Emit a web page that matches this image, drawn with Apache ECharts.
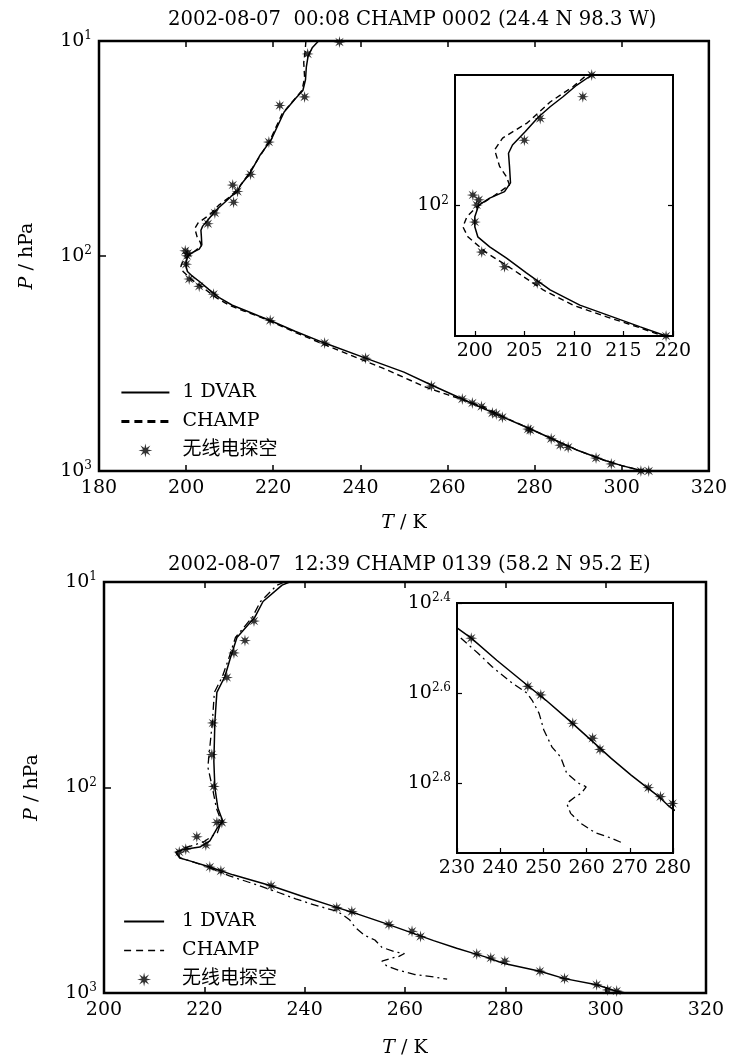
<!DOCTYPE html>
<html>
<head>
<meta charset="utf-8">
<script src="https://cdn.jsdelivr.net/npm/echarts@6/dist/echarts.min.js"></script>
<style>
  html, body { margin: 0; padding: 0; background: #fff; }
  #chart { width: 730px; height: 1059px; }
</style>
</head>
<body>
<div id="chart"></div>
<script>
// 上图: 2002-08-07 00:08, 温度 T (K), 气压用 lg(P/hPa)
const t1Dvar = [230.4, 229.0, 228.0, 227.6, 227.4, 226.8, 225.0, 222.5, 219.5, 217.0, 214.5, 212.5, 211.8, 210.3, 208.9, 207.6, 206.4, 205.1, 203.8, 203.4, 203.5, 203.6, 203.0, 201.5, 200.4, 200.0, 200.0, 200.3, 201.5, 203.2, 205.2, 207.6, 210.6, 213.9, 216.7, 219.3, 225.0, 231.8, 241.2, 250.0, 256.3, 263.4, 270.0, 278.5, 284.0, 290.0, 296.0, 300.0, 304.0, 306.5]
const p1Dvar = [1.00, 1.03, 1.07, 1.12, 1.18, 1.23, 1.27, 1.33, 1.46, 1.53, 1.62, 1.67, 1.70, 1.723, 1.75, 1.773, 1.797, 1.83, 1.861, 1.88, 1.91, 1.948, 1.968, 1.983, 1.999, 2.026, 2.049, 2.072, 2.095, 2.121, 2.155, 2.194, 2.229, 2.256, 2.279, 2.30, 2.35, 2.405, 2.475, 2.54, 2.60, 2.665, 2.725, 2.80, 2.85, 2.905, 2.95, 2.975, 2.995, 3.0]

const t1Champ = [227.5, 227.3, 227.0, 227.2, 226.6, 224.5, 222.0, 219.3, 216.8, 214.3, 212.2, 211.3, 209.9, 207.6, 205.3, 202.8, 202.0, 202.5, 203.2, 203.5, 201.8, 200.2, 199.2, 198.8, 199.3, 201.2, 203.9, 206.9, 209.9, 213.3, 216.4, 219.0, 225.0, 231.5, 240.0, 245.0, 250.0, 255.0, 260.0, 264.0, 268.0, 272.5, 278.0, 284.0, 290.0, 296.0, 300.0, 304.0, 306.0]
const p1Champ = [1.00, 1.05, 1.10, 1.17, 1.23, 1.28, 1.34, 1.46, 1.54, 1.62, 1.68, 1.70, 1.727, 1.762, 1.81, 1.845, 1.872, 1.91, 1.934, 1.953, 1.98, 2.003, 2.026, 2.049, 2.072, 2.109, 2.148, 2.194, 2.229, 2.256, 2.279, 2.30, 2.355, 2.41, 2.48, 2.52, 2.565, 2.61, 2.645, 2.672, 2.70, 2.745, 2.795, 2.85, 2.905, 2.95, 2.975, 2.995, 3.0]

const t1Sonde = [235.2, 227.9, 227.2, 221.5, 219.0, 214.8, 210.7, 211.8, 210.9, 206.6, 205.0, 199.8, 200.4, 200.2, 200.0, 200.7, 203.0, 206.3, 219.3, 231.8, 241.2, 256.3, 263.4, 265.7, 267.8, 270.3, 271.2, 272.6, 278.5, 279.0, 283.8, 285.9, 287.7, 294.1, 297.6, 304.4, 306.2]
const p1Sonde = [1.005, 1.06, 1.26, 1.30, 1.47, 1.62, 1.67, 1.70, 1.75, 1.80, 1.85, 1.976, 1.987, 1.999, 2.038, 2.107, 2.141, 2.178, 2.30, 2.405, 2.475, 2.605, 2.665, 2.684, 2.70, 2.73, 2.735, 2.75, 2.805, 2.81, 2.85, 2.88, 2.89, 2.94, 2.967, 3.0, 3.0]

// 下图: 2002-08-07 12:39
const t2Dvar = [237.0, 235.5, 231.7, 230.1, 226.5, 225.1, 224.1, 222.5, 222.1, 221.9, 222.1, 222.7, 223.7, 222.5, 221.1, 219.1, 216.1, 214.3, 215.1, 217.1, 221.1, 225.7, 230.0, 233.3, 239.2, 246.2, 250.6, 255.9, 261.1, 265.7, 270.3, 273.5, 276.5, 278.7, 280.0, 286.9, 291.8, 298.2, 302.0, 304.0]
const p2Dvar = [1.0, 1.015, 1.095, 1.17, 1.27, 1.377, 1.46, 1.537, 1.68, 1.875, 2.0, 2.10, 2.165, 2.20, 2.26, 2.29, 2.30, 2.315, 2.343, 2.357, 2.387, 2.425, 2.455, 2.478, 2.527, 2.582, 2.616, 2.66, 2.705, 2.745, 2.782, 2.806, 2.828, 2.848, 2.858, 2.894, 2.93, 2.96, 2.99, 3.0]

const t2Champ = [236.0, 234.5, 231.2, 229.6, 226.2, 224.8, 223.6, 222.0, 221.6, 220.7, 221.6, 222.4, 223.4, 222.6, 219.8, 216.0, 214.5, 215.2, 217.5, 221.0, 225.0, 230.0, 234.8, 238.2, 242.8, 246.2, 247.4, 249.0, 250.1, 252.0, 254.0, 255.4, 258.1, 259.9, 258.8, 257.4, 255.4, 256.3, 258.8, 262.0, 265.7, 268.4]
const p2Champ = [1.0, 1.015, 1.095, 1.17, 1.27, 1.377, 1.46, 1.537, 1.68, 1.9, 2.0, 2.10, 2.165, 2.22, 2.265, 2.295, 2.318, 2.343, 2.36, 2.39, 2.43, 2.47, 2.511, 2.542, 2.578, 2.60, 2.616, 2.645, 2.682, 2.72, 2.742, 2.778, 2.80, 2.808, 2.822, 2.83, 2.845, 2.867, 2.89, 2.91, 2.922, 2.933]

const t2Sonde = [229.9, 228.1, 225.9, 224.5, 221.7, 221.5, 221.9, 222.5, 223.5, 218.5, 220.3, 215.0, 216.3, 221.1, 223.3, 233.3, 246.4, 249.4, 256.8, 261.4, 263.1, 274.3, 277.1, 279.9, 286.9, 291.8, 298.2, 300.4, 302.2]
const p2Sonde = [1.19, 1.285, 1.345, 1.465, 1.686, 1.84, 1.995, 2.17, 2.17, 2.24, 2.28, 2.314, 2.30, 2.387, 2.406, 2.478, 2.585, 2.604, 2.667, 2.70, 2.725, 2.81, 2.83, 2.845, 2.894, 2.93, 2.96, 2.985, 2.99]

// 标题、图例、刻度
const titles = ['2002-08-07  00:08 CHAMP 0002 (24.4 N 98.3 W)', '2002-08-07  12:39 CHAMP 0139 (58.2 N 95.2 E)']
const legendNames = ['1 DVAR', 'CHAMP', '无线电探空']
const inset1XTicks = [200, 205, 210, 215, 220]
const inset1YTicks = [2]
const inset2YTicks = [2.4, 2.6, 2.8]

const FONT = "'DejaVu Serif', 'Noto Sans CJK SC', serif"
const BLACK = '#000'
const FS = 19

// 星号符号
function starPath() {
  let d = ''
  for (let i = 0; i < 16; i++) {
    const a = (i * Math.PI) / 8
    const r = i % 2 === 0 ? 10 : 3.7
    d += (i ? 'L' : 'M') + (r * Math.sin(a)).toFixed(2) + ' ' + (-r * Math.cos(a)).toFixed(2)
  }
  return 'path://' + d + 'Z'
}
const STAR = starPath()

const zip = (xs, ys) => xs.map((x, i) => [x, ys[i]])

const rich = {
  b: { fontFamily: FONT, fontSize: FS, color: BLACK },
  sup: { fontFamily: FONT, fontSize: 12, color: BLACK, padding: [0, 0, 10, 0] },
  i: { fontFamily: FONT, fontSize: FS, color: BLACK, fontStyle: 'italic' }
}
const powLabel = (v) => '{b|10}{sup|' + String(Math.round(v * 10) / 10) + '}'

function xAxisBottom(grid, min, max, interval, extra) {
  return Object.assign({
    type: 'value', gridIndex: grid, min, max, interval,
    axisLine: { show: false },
    axisTick: { inside: true, length: 6, lineStyle: { color: BLACK, width: 1.5 } },
    splitLine: { show: false },
    axisLabel: { color: BLACK, fontFamily: FONT, fontSize: FS, margin: 8 }
  }, extra || {})
}
function xAxisTop(grid, min, max, interval) {
  return {
    type: 'value', gridIndex: grid, position: 'top', min, max, interval,
    axisLine: { show: false },
    axisTick: { inside: true, length: 6, lineStyle: { color: BLACK, width: 1.5 } },
    splitLine: { show: false },
    axisLabel: { show: false }
  }
}
function yAxisLog(grid, min, max, extra) {
  return Object.assign({
    type: 'value', gridIndex: grid, min, max, inverse: true,
    axisLine: { show: false },
    axisTick: { inside: true, length: 7, lineStyle: { color: BLACK, width: 1.5 } },
    splitLine: { show: false },
    axisLabel: { formatter: powLabel, rich, margin: 7 }
  }, extra || {})
}

function lineSeries(name, xi, yi, xs, ys, style) {
  return {
    name, type: 'line', xAxisIndex: xi, yAxisIndex: yi,
    data: zip(xs, ys), symbol: 'none', showSymbol: false,
    clip: true, z: 5,
    itemStyle: { color: BLACK },
    lineStyle: Object.assign({ color: BLACK, width: 1.5 }, style || {})
  }
}
function starSeries(name, xi, yi, xs, ys) {
  return {
    name, type: 'scatter', xAxisIndex: xi, yAxisIndex: yi,
    data: zip(xs, ys), symbol: STAR, symbolSize: 12, clip: true, z: 6,
    itemStyle: { color: BLACK }
  }
}

const champ1Style = { type: [6, 4], width: 1.4 }
const champ2Style = { type: [8, 4, 2, 4], width: 1.3 }

const labelOf = {
  dvar1: legendNames[0], champ1: legendNames[1], sonde1: legendNames[2],
  dvar2: legendNames[0], champ2: legendNames[1], sonde2: legendNames[2]
}
const hideDot = { opacity: 0 }
const axisNameStyle = { fontFamily: FONT, fontSize: FS, color: BLACK, rich }

const option = {
  backgroundColor: '#fff',
  animation: false,
  title: [
    { text: titles[0], left: 163, top: 5, textStyle: { fontFamily: FONT, fontSize: 19.6, fontWeight: 'normal', color: BLACK } },
    { text: titles[1], left: 163, top: 550, textStyle: { fontFamily: FONT, fontSize: 19.6, fontWeight: 'normal', color: BLACK } }
  ],
  grid: [
    { left: 99, top: 41, width: 610, height: 430, show: true, borderColor: BLACK, borderWidth: 2.5, backgroundColor: '#fff' },
    { left: 455, top: 75, width: 218, height: 261, show: true, borderColor: BLACK, borderWidth: 2, backgroundColor: '#fff', z: 10 },
    { left: 104, top: 582, width: 602, height: 414, show: true, borderColor: BLACK, borderWidth: 2.5, backgroundColor: '#fff' },
    { left: 457, top: 603, width: 216, height: 250, show: true, borderColor: BLACK, borderWidth: 2, backgroundColor: '#fff', z: 10 }
  ],
  xAxis: [
    xAxisBottom(0, 180, 320, 20, {
      name: '{i|T} / K', nameLocation: 'middle', nameGap: 43, nameTextStyle: axisNameStyle
    }),
    xAxisTop(0, 180, 320, 20),
    xAxisBottom(1, 198, 220, null, {
      z: 12,
      axisTick: { inside: true, length: 5, customValues: inset1XTicks, lineStyle: { color: BLACK, width: 1.2 } },
      axisLabel: { color: BLACK, fontFamily: FONT, fontSize: FS, margin: 6, customValues: inset1XTicks }
    }),
    xAxisBottom(2, 200, 320, 20, {
      name: '{i|T} / K', nameLocation: 'middle', nameGap: 46, nameTextStyle: axisNameStyle
    }),
    xAxisTop(2, 200, 320, 20),
    xAxisBottom(3, 230, 280, 10, {
      z: 12,
      axisTick: { inside: true, length: 5, lineStyle: { color: BLACK, width: 1.2 } },
      axisLabel: { color: BLACK, fontFamily: FONT, fontSize: FS, margin: 6 }
    })
  ],
  yAxis: [
    yAxisLog(0, 1, 3, {
      interval: 1,
      name: '{i|P} / hPa', nameLocation: 'middle', nameGap: 62, nameTextStyle: axisNameStyle
    }),
    yAxisLog(1, 1.7, 2.3, {
      z: 12,
      axisTick: { inside: true, length: 5, customValues: inset1YTicks, lineStyle: { color: BLACK, width: 1.2 } },
      axisLabel: { formatter: powLabel, rich, margin: 6, customValues: inset1YTicks }
    }),
    yAxisLog(2, 1, 3, {
      interval: 1,
      name: '{i|P} / hPa', nameLocation: 'middle', nameGap: 62, nameTextStyle: axisNameStyle
    }),
    yAxisLog(3, 2.4, 2.955, {
      z: 12,
      axisTick: { inside: true, length: 5, customValues: inset2YTicks, lineStyle: { color: BLACK, width: 1.2 } },
      axisLabel: { formatter: powLabel, rich, margin: 6, customValues: inset2YTicks }
    }),
    // 小图右侧刻度
    {
      type: 'value', gridIndex: 1, min: 1.7, max: 2.3, inverse: true, position: 'right', z: 12,
      axisLine: { show: false }, splitLine: { show: false }, axisLabel: { show: false },
      axisTick: { inside: true, length: 5, customValues: inset1YTicks, lineStyle: { color: BLACK, width: 1.2 } }
    }
  ],
  legend: [
    {
      orient: 'vertical', left: 120, top: 383, itemWidth: 48, itemHeight: 14, itemGap: 10, padding: 0,
      selectedMode: false,
      data: [
        { name: 'dvar1', itemStyle: hideDot },
        { name: 'champ1', itemStyle: hideDot, lineStyle: { type: [8, 5], width: 2.8 } },
        { name: 'sonde1' }
      ],
      formatter: (n) => labelOf[n],
      textStyle: { fontFamily: FONT, fontSize: FS, color: BLACK, padding: [0, 0, 0, 8] }
    },
    {
      orient: 'vertical', left: 123, top: 912, itemWidth: 40, itemHeight: 14, itemGap: 10, padding: 0,
      selectedMode: false,
      data: [
        { name: 'dvar2', itemStyle: hideDot, lineStyle: { width: 2.2 } },
        { name: 'champ2', itemStyle: hideDot, lineStyle: { type: [7, 5], width: 1.4 } },
        { name: 'sonde2' }
      ],
      formatter: (n) => labelOf[n],
      textStyle: { fontFamily: FONT, fontSize: FS, color: BLACK, padding: [0, 0, 0, 13] }
    }
  ],
  series: [
    lineSeries('dvar1', 0, 0, t1Dvar, p1Dvar),
    lineSeries('champ1', 0, 0, t1Champ, p1Champ, champ1Style),
    starSeries('sonde1', 0, 0, t1Sonde, p1Sonde),
    Object.assign(lineSeries('dvar1i', 2, 1, t1Dvar, p1Dvar), { z: 13 }),
    Object.assign(lineSeries('champ1i', 2, 1, t1Champ, p1Champ, champ1Style), { z: 13 }),
    Object.assign(starSeries('sonde1i', 2, 1, t1Sonde, p1Sonde), { z: 14 }),
    lineSeries('dvar2', 3, 2, t2Dvar, p2Dvar),
    lineSeries('champ2', 3, 2, t2Champ, p2Champ, champ2Style),
    starSeries('sonde2', 3, 2, t2Sonde, p2Sonde),
    Object.assign(lineSeries('dvar2i', 5, 3, t2Dvar, p2Dvar), { z: 13 }),
    Object.assign(lineSeries('champ2i', 5, 3, t2Champ, p2Champ, champ2Style), { z: 13 }),
    Object.assign(starSeries('sonde2i', 5, 3, t2Sonde, p2Sonde), { z: 14 })
  ]
}

const chart = echarts.init(document.getElementById('chart'), null, { renderer: 'canvas' })
chart.setOption(option)
</script>
</body>
</html>
